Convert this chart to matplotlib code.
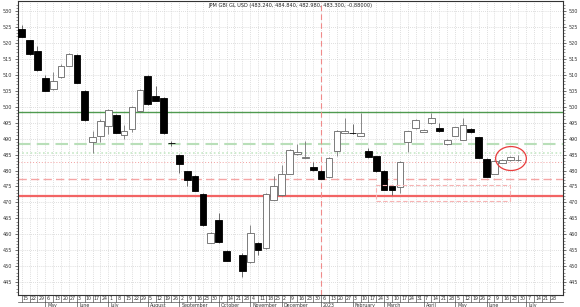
import matplotlib
matplotlib.use("Agg")
import matplotlib.pyplot as plt
import matplotlib.transforms as mtransforms
from matplotlib.patches import Rectangle, Ellipse
import numpy as np
import pandas as pd

TITLE = "JPM GBI GL USD (483.240, 484.840, 482.980, 483.300, -0.88000)"

# weekly axis (Fridays)
weeks = pd.date_range("2022-04-15", "2023-07-28", freq="7D")

# weekly OHLC, first 64 weeks (one week without a candle)
opens = [524.3, 520.8, 517.5, 509.0, 505.5, 509.2, 512.8, 516.2, 504.8, 488.8,
         490.8, 493.8, 497.5, 491.2, 493.0, 498.5, 509.7, 503.4, 502.7, 488.7,
         484.9, 479.7, 478.4, 472.7, 457.4, 464.4, 454.8, np.nan, 453.6, 451.2,
         457.4, 455.7, 470.9, 472.2, 479.0, 485.2, 484.0, 481.25, 480.0, 478.1,
         486.25, 491.8, 491.8, 490.9, 486.0, 484.4, 480.0, 475.0, 474.8, 488.9,
         493.3, 492.2, 494.8, 493.3, 488.3, 490.9, 489.7, 493.0, 490.4, 483.6,
         479.0, 482.4, 483.3, 483.24]
highs = [525.6, 521.0, 519.1, 510.0, 511.0, 513.4, 516.8, 516.5, 505.2, 492.3,
         496.2, 499.3, 497.7, 494.1, 500.2, 505.4, 510.0, 506.6, 502.9, 489.2,
         485.2, 479.9, 478.6, 472.9, 460.7, 466.7, 455.0, np.nan, 454.2, 462.8,
         457.6, 472.9, 478.4, 481.6, 486.6, 488.3, 489.2, 482.6, 480.2, 484.2,
         492.7, 496.5, 494.6, 498.0, 487.0, 484.6, 480.2, 475.2, 483.0, 492.5,
         496.0, 493.0, 498.0, 495.0, 489.8, 493.7, 496.5, 493.2, 490.6, 483.8,
         483.3, 483.5, 484.4, 484.84]
lows = [521.7, 516.3, 511.3, 504.8, 505.3, 509.0, 512.6, 507.3, 495.6, 485.4,
        488.9, 491.5, 491.6, 489.9, 492.0, 498.3, 500.6, 501.7, 491.5, 487.8,
        479.2, 475.3, 473.5, 462.6, 457.2, 457.4, 451.5, np.nan, 446.5, 451.0,
        453.6, 455.5, 470.7, 472.0, 478.8, 485.0, 483.9, 480.0, 477.2, 477.9,
        484.7, 491.6, 491.5, 490.7, 484.0, 479.6, 473.8, 472.2, 472.9, 485.7,
        493.1, 492.0, 494.6, 492.1, 488.1, 490.7, 489.5, 491.8, 483.8, 477.9,
        478.8, 482.2, 483.1, 482.98]
closes = [521.9, 516.5, 511.5, 505.0, 508.1, 512.8, 516.5, 507.5, 495.8, 490.4,
          495.4, 499.0, 491.8, 492.5, 500.0, 505.2, 500.8, 501.9, 491.7, 488.5,
          481.9, 476.9, 473.7, 462.8, 460.5, 457.6, 451.7, np.nan, 448.5, 460.5,
          455.0, 472.7, 475.1, 478.75, 486.4, 485.75, 484.1, 480.2, 477.4, 484.0,
          492.5, 492.5, 491.7, 491.8, 484.2, 479.8, 474.0, 474.0, 482.8, 492.3,
          495.8, 492.8, 496.5, 492.3, 489.6, 493.5, 494.3, 492.0, 484.0, 478.1,
          483.1, 483.3, 484.2, 483.30]

# support / resistance levels
resist_solid = 498.2
resist_dash = 488.3
resist_dot = 485.6
support_dot = 482.8
support_dash = 477.4
support_solid = 472.0
year_line = 38          # week index of the 2023 separator
box_x = (44.96, 62.0)   # dashed zone
box_y = (470.6, 475.5)
circle_xy = (62.1, 483.75)
circle_wh = (3.9, 7.5)

fig = plt.figure(figsize=(5.8, 3.07), dpi=100)
ax = fig.add_axes([18 / 580, 1 - 295 / 307, 545 / 580, 294 / 307])

x = np.arange(len(opens))
o = np.array(opens); h = np.array(highs); l = np.array(lows); c = np.array(closes)
up = c >= o
w = 0.85
for i in x:
    if np.isnan(o[i]):
        continue
    if up[i]:
        ax.vlines(i, l[i], h[i], color="#777777", lw=0.6, zorder=3)
        ax.add_patch(Rectangle((i - w / 2, o[i]), w, max(c[i] - o[i], 0.15),
                               facecolor="white", edgecolor="#666666", lw=0.6, zorder=4))
    else:
        ax.vlines(i, l[i], h[i], color="#555555", lw=0.6, zorder=3)
        ax.add_patch(Rectangle((i - w / 2, c[i]), w, max(o[i] - c[i], 0.15),
                               facecolor="black", edgecolor="black", lw=0.6, zorder=4))

ax.axhline(resist_solid, color="#4f9a4f", lw=1.0, zorder=2)
ax.axhline(resist_dash, color="#b9dfb9", lw=1.5, ls=(0, (6, 3)), zorder=2)
ax.axhline(resist_dot, color="#c6e8c6", lw=1.2, ls=(0, (1, 1.5)), zorder=2)
ax.axhline(support_dot, color="#f2a0a0", lw=0.7, ls=(0, (1, 2)), zorder=2)
ax.axhline(support_dash, color="#f5a5a5", lw=1.0, ls=(0, (6, 3)), zorder=2)
ax.axhline(support_solid, color="#f26464", lw=1.6, zorder=2)
ax.axvline(year_line, color="#f08a8a", lw=0.8, ls=(0, (5, 3)), zorder=2)

ax.add_patch(Rectangle((box_x[0], box_y[0]), box_x[1] - box_x[0], box_y[1] - box_y[0],
                       fill=False, edgecolor="#f7b4b4", lw=0.8, ls=(0, (4, 2)), zorder=5))
ax.add_patch(Ellipse(circle_xy, circle_wh[0], circle_wh[1],
                     fill=False, edgecolor="#e83c3c", lw=0.9, zorder=6))

ax.set_xlim(-0.47, 68.7)
ax.set_ylim(441.0, 533.1)

# grid
ax.set_xticks(np.arange(len(weeks)))
ax.set_yticks(np.arange(445, 531, 5))
ax.set_yticks(np.arange(442, 533, 1), minor=True)
ax.grid(True, which="major", color="#d4d4d4", lw=0.6, ls=(0, (1, 1.5)), zorder=0)
ax.tick_params(axis="x", which="both", length=0, labelbottom=False)
ax.tick_params(axis="y", which="major", labelsize=3.5, length=2.5, width=0.5,
               colors="#333333", left=True, right=True, labelleft=True, labelright=True, pad=1.5)
ax.tick_params(axis="y", which="minor", length=1.2, width=0.4, left=True, right=True, colors="#444444")
for s in ax.spines.values():
    s.set_color("#333333")
    s.set_linewidth(0.8)

ax.text(0.5, 1 - 4 / 294, TITLE, transform=ax.transAxes, ha="center", va="center",
        fontsize=3.6, color="#222222")

# date boxes below the axes
trans = mtransforms.blended_transform_factory(ax.transData, fig.transFigure)
y_line = 1 - 302 / 307
for i, d in enumerate(weeks):
    ax.add_line(plt.Line2D([i, i], [1 - 295 / 307, y_line], transform=trans,
                           color="#555555", lw=0.5, clip_on=False))
    ax.text(i + 0.15, 1 - 298.8 / 307, str(d.day), transform=trans, ha="left", va="center",
            fontsize=3.4, color="#333333", clip_on=False)
    if i > 0 and d.month != weeks[i - 1].month:
        name = str(d.year) if d.month == 1 else d.strftime("%B")
        ax.add_line(plt.Line2D([i, i], [y_line, 0], transform=trans,
                               color="#555555", lw=0.5, clip_on=False))
        ax.text(i + 0.25, 1 - 305.2 / 307, name, transform=trans, ha="left", va="center",
                fontsize=3.4, color="#333333", clip_on=False)
ax.add_line(plt.Line2D([-0.47, 68.7], [y_line, y_line], transform=trans,
                       color="#555555", lw=0.5, clip_on=False))

fig.savefig("out.png", dpi=100)
